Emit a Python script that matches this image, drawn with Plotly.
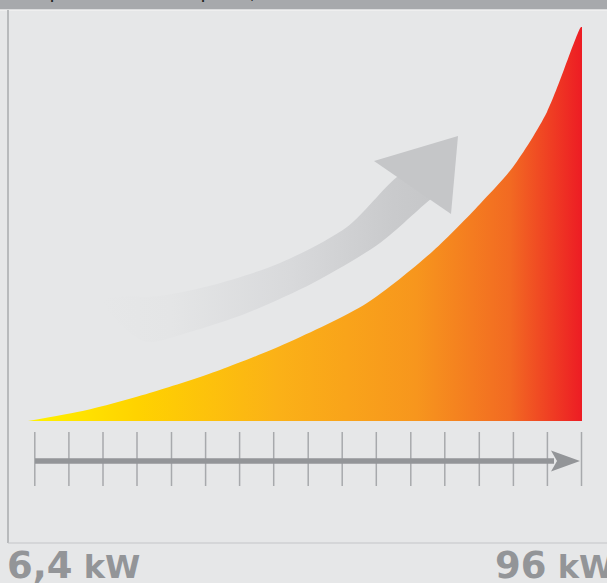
import plotly.graph_objects as go

W, H = 607, 583
BG = "#e6e7e8"

# Growth curve (pixel-space coordinates)
curve_x = [28, 87, 153, 220, 287, 367, 433, 480, 513, 547, 581]
curve_y = [421, 410, 392, 370, 343, 303, 251, 204, 167, 112, 27]
curve_right_x = 582
curve_base_y = 421

# Curved gray arrow: shaft edges and head
shaft_upper_x = [103, 160, 213, 280, 347, 397, 430]
shaft_upper_y = [300, 296, 285, 263, 227, 177, 158]
shaft_lower_x = [445, 431, 380, 313, 247, 190, 147, 122]
shaft_lower_y = [190, 199, 243, 283, 313, 332, 342, 326]
head_x = [374, 458, 451, 374]
head_y = [161, 136, 214, 161]

# Scale ticks
tick_x = [34.8, 68.9, 103.0, 137.0, 171.5, 205.6, 239.6, 273.7, 308.2, 342.2,
          376.3, 410.8, 444.8, 479.3, 513.4, 547.4, 581.5]
tick_top, tick_bottom = 432, 486
axis_y = 461
axis_start, axis_end = 35, 580

label_min = "6,4"
label_max = "96"
unit = "kW"
title_text = "Campo di modulazione della potenza, in kW"

fig = go.Figure()

# baseline for the curve fill
fig.add_trace(go.Scatter(
    x=[curve_x[0], curve_right_x], y=[curve_base_y, curve_base_y], mode="lines",
    line=dict(width=0), hoverinfo="skip", showlegend=False))
# curve with horizontal gradient fill
fig.add_trace(go.Scatter(
    x=curve_x + [curve_right_x], y=curve_y + [curve_y[-1]], mode="lines",
    line=dict(width=0, shape="spline", smoothing=0.8), fill="tonexty",
    fillgradient=dict(type="horizontal", colorscale=[
        [0.0, "#fff200"], [0.2, "#ffd200"], [0.45, "#fbb117"],
        [0.7, "#f7961d"], [0.87, "#f26a22"], [1.0, "#ed1c24"]]),
    hoverinfo="skip", showlegend=False))

# arrow shaft with fading gradient
sx = shaft_upper_x + shaft_lower_x + [shaft_upper_x[0]]
sy = shaft_upper_y + shaft_lower_y + [shaft_upper_y[0]]
fig.add_trace(go.Scatter(
    x=sx, y=sy, mode="lines", fill="toself",
    line=dict(width=0, shape="spline", smoothing=0.8),
    fillgradient=dict(type="horizontal", colorscale=[
        [0.0, BG], [0.2, "#e4e5e6"], [0.55, "#d8d9db"], [0.85, "#c9cacc"], [1.0, "#c5c6c8"]]),
    hoverinfo="skip", showlegend=False))

# arrow head
fig.add_trace(go.Scatter(
    x=head_x, y=head_y, mode="lines", line=dict(width=0), fill="toself", fillcolor="#c5c6c8",
    hoverinfo="skip", showlegend=False))

shapes = []
# top band
shapes.append(dict(type="rect", x0=0, x1=W, y0=0, y1=9.5, fillcolor="#a7a9ac", line_width=0, layer="below"))
shapes.append(dict(type="line", x0=0, x1=W, y0=10.2, y1=10.2, line=dict(color="#f2f2f2", width=1.2), layer="below"))
# frame lines
shapes.append(dict(type="line", x0=8, x1=8, y0=10, y1=543, line=dict(color="#a9abae", width=1.5), layer="below"))
shapes.append(dict(type="line", x0=8, x1=W, y0=543, y1=543, line=dict(color="#c4c5c7", width=1.2), layer="below"))
# ticks
for tx in tick_x:
    shapes.append(dict(type="line", x0=tx, x1=tx, y0=tick_top, y1=tick_bottom,
                       line=dict(color="#a7a9ac", width=1.5)))
# axis arrow
shapes.append(dict(type="line", x0=axis_start, x1=axis_end - 26, y0=axis_y, y1=axis_y,
                   line=dict(color="#939598", width=5.5)))
shapes.append(dict(type="path",
                   path=f"M {axis_end-29} {axis_y-10.5} L {axis_end} {axis_y} L {axis_end-29} {axis_y+10.5} L {axis_end-23} {axis_y} Z",
                   fillcolor="#939598", line_width=0))

label_y = -5 / H  # paper coords, just below the bottom edge
annotations = [
    dict(x=20, y=4.5, xref="x", yref="y", xanchor="left", yanchor="bottom", showarrow=False,
         text=f"<b>{title_text}</b>", font=dict(family="Liberation Sans", size=13, color="#231f20")),
    dict(x=6 / W, y=label_y, xref="paper", yref="paper", xanchor="left", yanchor="bottom",
         showarrow=False, borderpad=0,
         text=f"<b>{label_min}<span style='font-size:32px'> {unit}</span></b>",
         font=dict(family="DejaVu Sans", size=37, color="#939598")),
    dict(x=494 / W, y=label_y, xref="paper", yref="paper", xanchor="left", yanchor="bottom",
         showarrow=False, borderpad=0,
         text=f"<b>{label_max}<span style='font-size:32px'> {unit}</span></b>",
         font=dict(family="DejaVu Sans", size=37, color="#939598")),
]

fig.update_layout(
    width=W, height=H, margin=dict(l=0, r=0, t=0, b=0),
    paper_bgcolor=BG, plot_bgcolor=BG,
    xaxis=dict(range=[0, W], visible=False, fixedrange=True),
    yaxis=dict(range=[H, 0], visible=False, fixedrange=True),
    shapes=shapes, annotations=annotations, showlegend=False,
)
fig.write_html("out.html", config={"displayModeBar": False},
               post_script="document.body.style.margin='0';document.body.style.overflow='hidden';")
